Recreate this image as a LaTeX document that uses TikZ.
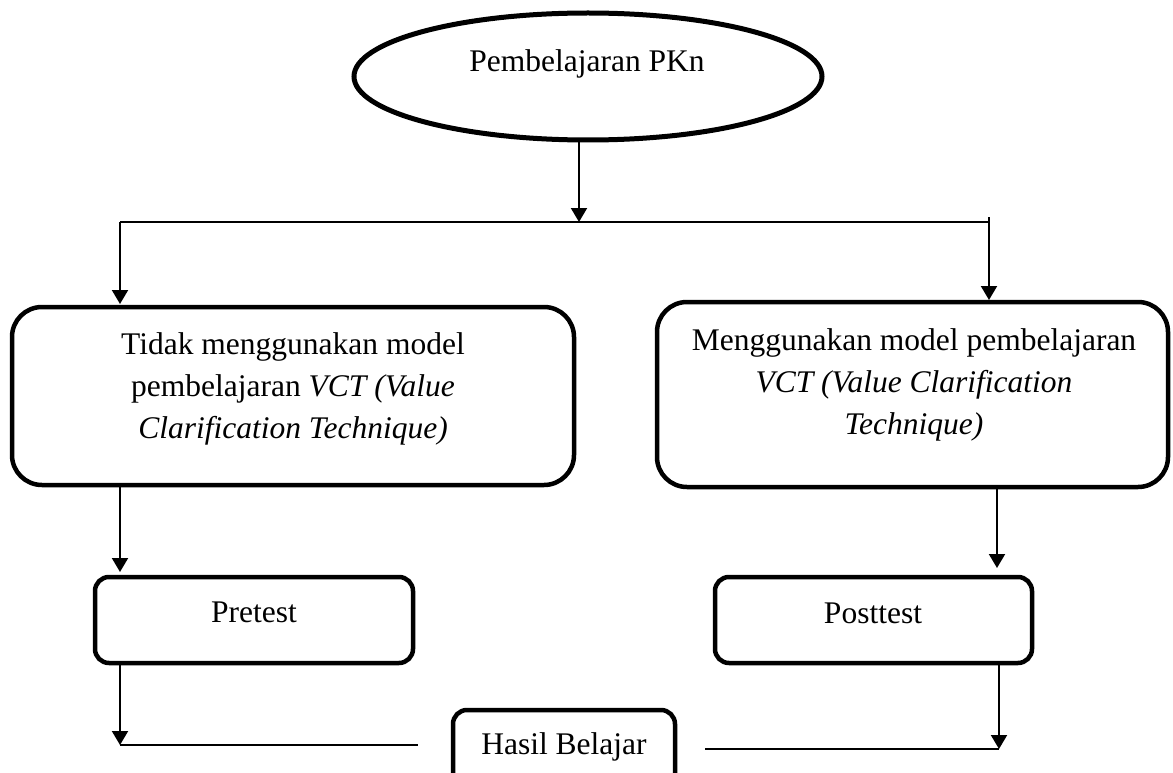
\documentclass[tikz,border=0pt]{standalone}
\usepackage{fontspec}
\setmainfont{Liberation Serif}
\usetikzlibrary{shapes.geometric,arrows.meta}
\tikzset{
 bigbox/.style={draw, line width=4.5pt, rounded corners=30pt, inner sep=0pt, outer sep=0pt},
 smallbox/.style={draw, line width=4.5pt, rounded corners=14pt, inner sep=0pt, outer sep=0pt},
 oval/.style={draw, ellipse, line width=5pt, inner sep=0pt, outer sep=0pt},
 txt/.style={inner sep=0pt, font=\fontsize{31.5}{42}\selectfont},
 conn/.style={line width=2pt},
 arr/.style={conn, -{Triangle[width=16pt,length=14pt]}},
}
\begin{document}
\begin{tikzpicture}[x=1pt,y=-1pt]
\useasboundingbox (0,0) rectangle (1173,773);
\clip (0,0) rectangle (1173,773);
\node[oval, minimum width=468pt, minimum height=127pt] (pkn) at (588,76.5) {};
\node[txt, anchor=base] (pkntext) at (587,72) {Pembelajaran PKn};
\node[bigbox, minimum width=562pt, minimum height=178pt] (nonvct) at (293,396) {};
\node[txt, align=center] (nonvcttext) at (293,389) {Tidak menggunakan model\\pembelajaran \textit{VCT (Value}\\\textit{Clarification Technique)}};
\node[bigbox, minimum width=511pt, minimum height=185pt] (vct) at (912.5,394.5) {};
\node[txt, align=center] (vcttext) at (914,385) {Menggunakan model pembelajaran\\\textit{VCT (Value Clarification}\\\textit{Technique)}};
\node[smallbox, minimum width=318pt, minimum height=86pt] (pre) at (254,620) {};
\node[txt, anchor=base] (pretext) at (254,622) {Pretest};
\node[smallbox, minimum width=317pt, minimum height=86pt] (post) at (873.5,620) {};
\node[txt, anchor=base] (posttext) at (873,623) {Posttest};
\node[smallbox, minimum width=222pt, minimum height=80pt] (hasil) at (564,750) {};
\node[txt, anchor=base] (hasiltext) at (564,754) {Hasil Belajar};
\coordinate (split) at (579,222);
\coordinate (tl) at (120,222);
\coordinate (tr) at (989,222);
\coordinate (trtop) at (989,217);
\coordinate (rx) at (997,0);
\coordinate (bl) at (120,745);
\coordinate (br) at (999,749);
\draw[arr] (pkn.south -| split) -- (split);
\draw[conn] (tl) -- (tr);
\draw[arr, shorten >=3pt] (tl) -- (tl |- nonvct.north);
\draw[arr, shorten >=2pt] (trtop) -- (trtop |- vct.north);
\draw[arr, shorten >=5pt] (nonvct.south -| tl) -- (pre.north -| tl);
\draw[arr, shorten >=9pt] (vct.south -| rx) -- (post.north -| rx);
\draw[arr] (pre.south -| bl) -- (bl);
\draw[conn, shorten >=35pt] (bl) -- (bl -| hasil.west);
\draw[arr] (post.south -| br) -- (br);
\draw[conn, shorten >=30pt] (br) -- (br -| hasil.east);
\end{tikzpicture}
\end{document}
